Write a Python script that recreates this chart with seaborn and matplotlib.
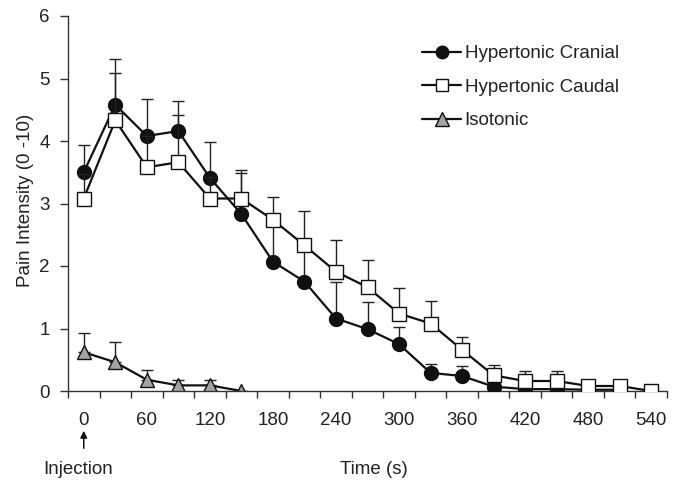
import numpy as np
import pandas as pd
import matplotlib
matplotlib.use("Agg")
import matplotlib.pyplot as plt
import seaborn as sns
from matplotlib.lines import Line2D

# ---- data ----
times = [0, 30, 60, 90, 120, 150, 180, 210, 240, 270, 300, 330, 360, 390, 420, 450, 480, 510, 540]
cranial = [3.50, 4.58, 4.08, 4.16, 3.41, 2.83, 2.07, 1.75, 1.16, 0.99, 0.75, 0.29, 0.24, 0.07, 0.03, 0.03, 0.02, 0.02]
cranial_err = [0.43, 0.73, 0.60, 0.48, 0.57, 0.66, 0.60, 0.55, 0.58, 0.43, 0.27, 0.15, 0.16, 0.04, 0.0, 0.0, 0.0, 0.0]
caudal = [3.08, 4.33, 3.58, 3.66, 3.08, 3.08, 2.74, 2.33, 1.91, 1.66, 1.24, 1.08, 0.66, 0.25, 0.16, 0.16, 0.08, 0.08, 0.0]
caudal_err = [0.40, 0.76, 0.50, 0.76, 0.35, 0.45, 0.36, 0.55, 0.51, 0.44, 0.41, 0.36, 0.21, 0.16, 0.16, 0.16, 0.0, 0.0, 0.0]
isotonic = [0.62, 0.46, 0.18, 0.09, 0.09, 0.0]
isotonic_err = [0.31, 0.33, 0.16, 0.08, 0.08, 0.0]
labels = ["Hypertonic Cranial", "Hypertonic Caudal", "Isotonic"]
xtick_labels = [0, 60, 120, 180, 240, 300, 360, 420, 480, 540]

sns.set_theme(style="white")
plt.rcParams['font.family'] = ['Liberation Sans', 'DejaVu Sans']
FS = 13.5
TXT = "#222222"

W, H = 676, 482
fig = plt.figure(figsize=(W / 100, H / 100), dpi=100)
ax = fig.add_axes([68 / W, (H - 391) / H, (667 - 68) / W, (391 - 16) / H])

series = [
    (times[:len(isotonic)], isotonic, isotonic_err, dict(marker="^", mfc="#a3a3a3", ms=10.5), 2),
    (times[:len(cranial)], cranial, cranial_err, dict(marker="o", mfc="#111111", ms=10), 3),
    (times[:len(caudal)], caudal, caudal_err, dict(marker="s", mfc="white", ms=9.5), 4),
]

for x, y, e, st, z in series:
    x = np.array(x); y = np.array(y); e = np.array(e)
    ax.errorbar(x, y, yerr=[np.zeros_like(e), e], fmt="none", ecolor="#222222",
                elinewidth=1.0, capsize=4, capthick=1.0, zorder=z - 0.5)
    df = pd.DataFrame({"t": x, "v": y})
    sns.lineplot(data=df, x="t", y="v", ax=ax, color="#111111", linewidth=1.6,
                 marker=st["marker"], markersize=st["ms"], markerfacecolor=st["mfc"],
                 markeredgecolor="#111111", markeredgewidth=1.0, zorder=z)

ax.set_xlim(-15, 555)
ax.set_ylim(0, 6)
ax.set_xlabel("")
ax.set_ylabel("")
ax.set_xticks(xtick_labels)
ax.set_xticklabels([str(v) for v in xtick_labels], fontsize=FS, color=TXT)
ax.set_xticks(np.arange(-15, 556, 30), minor=True)
ax.tick_params(axis="x", which="major", length=0, pad=15)
ax.tick_params(axis="x", which="minor", length=5, width=1, color="#333333", direction="out", bottom=True)
ax.set_yticks(range(0, 7))
ax.set_yticklabels([str(v) for v in range(0, 7)], fontsize=FS, color=TXT)
ax.tick_params(axis="y", length=6, width=1, color="#333333", direction="out", left=True, pad=7)
sns.despine(ax=ax)
for s in ["left", "bottom"]:
    ax.spines[s].set_color("#333333")
    ax.spines[s].set_linewidth(1.0)

fig.text(26 / W, 1 - 200 / H, "Pain Intensity (0 -10)", rotation=90, ha="center", va="center",
         fontsize=FS, color=TXT)
fig.text(374 / W, 1 - 470 / H, "Time (s)", ha="center", va="center", fontsize=FS, color=TXT)
fig.text(78 / W, 1 - 470 / H, "Injection", ha="center", va="center", fontsize=FS, color=TXT)
ax.annotate("", xy=(0, H - 428), xytext=(0, H - 451), xycoords=("data", "figure pixels"),
            textcoords=("data", "figure pixels"),
            arrowprops=dict(arrowstyle="-|>", color="#111111", lw=1.1, mutation_scale=10),
            annotation_clip=False)

handles = [
    Line2D([], [], color="#111111", lw=1.6, marker="o", ms=9, mfc="#111111", mec="#111111"),
    Line2D([], [], color="#111111", lw=1.6, marker="s", ms=8.5, mfc="white", mec="#111111"),
    Line2D([], [], color="#111111", lw=1.6, marker="^", ms=9.5, mfc="#a3a3a3", mec="#111111"),
]
ax.legend(handles, labels, loc="upper left", bbox_to_anchor=(422 / W, 1 - 45 / H),
          bbox_transform=fig.transFigure, frameon=False, fontsize=FS, borderpad=0,
          borderaxespad=0, handlelength=2.1, handletextpad=0.18, labelspacing=0.88,
          labelcolor=TXT)

fig.savefig("out.png", dpi=100)
